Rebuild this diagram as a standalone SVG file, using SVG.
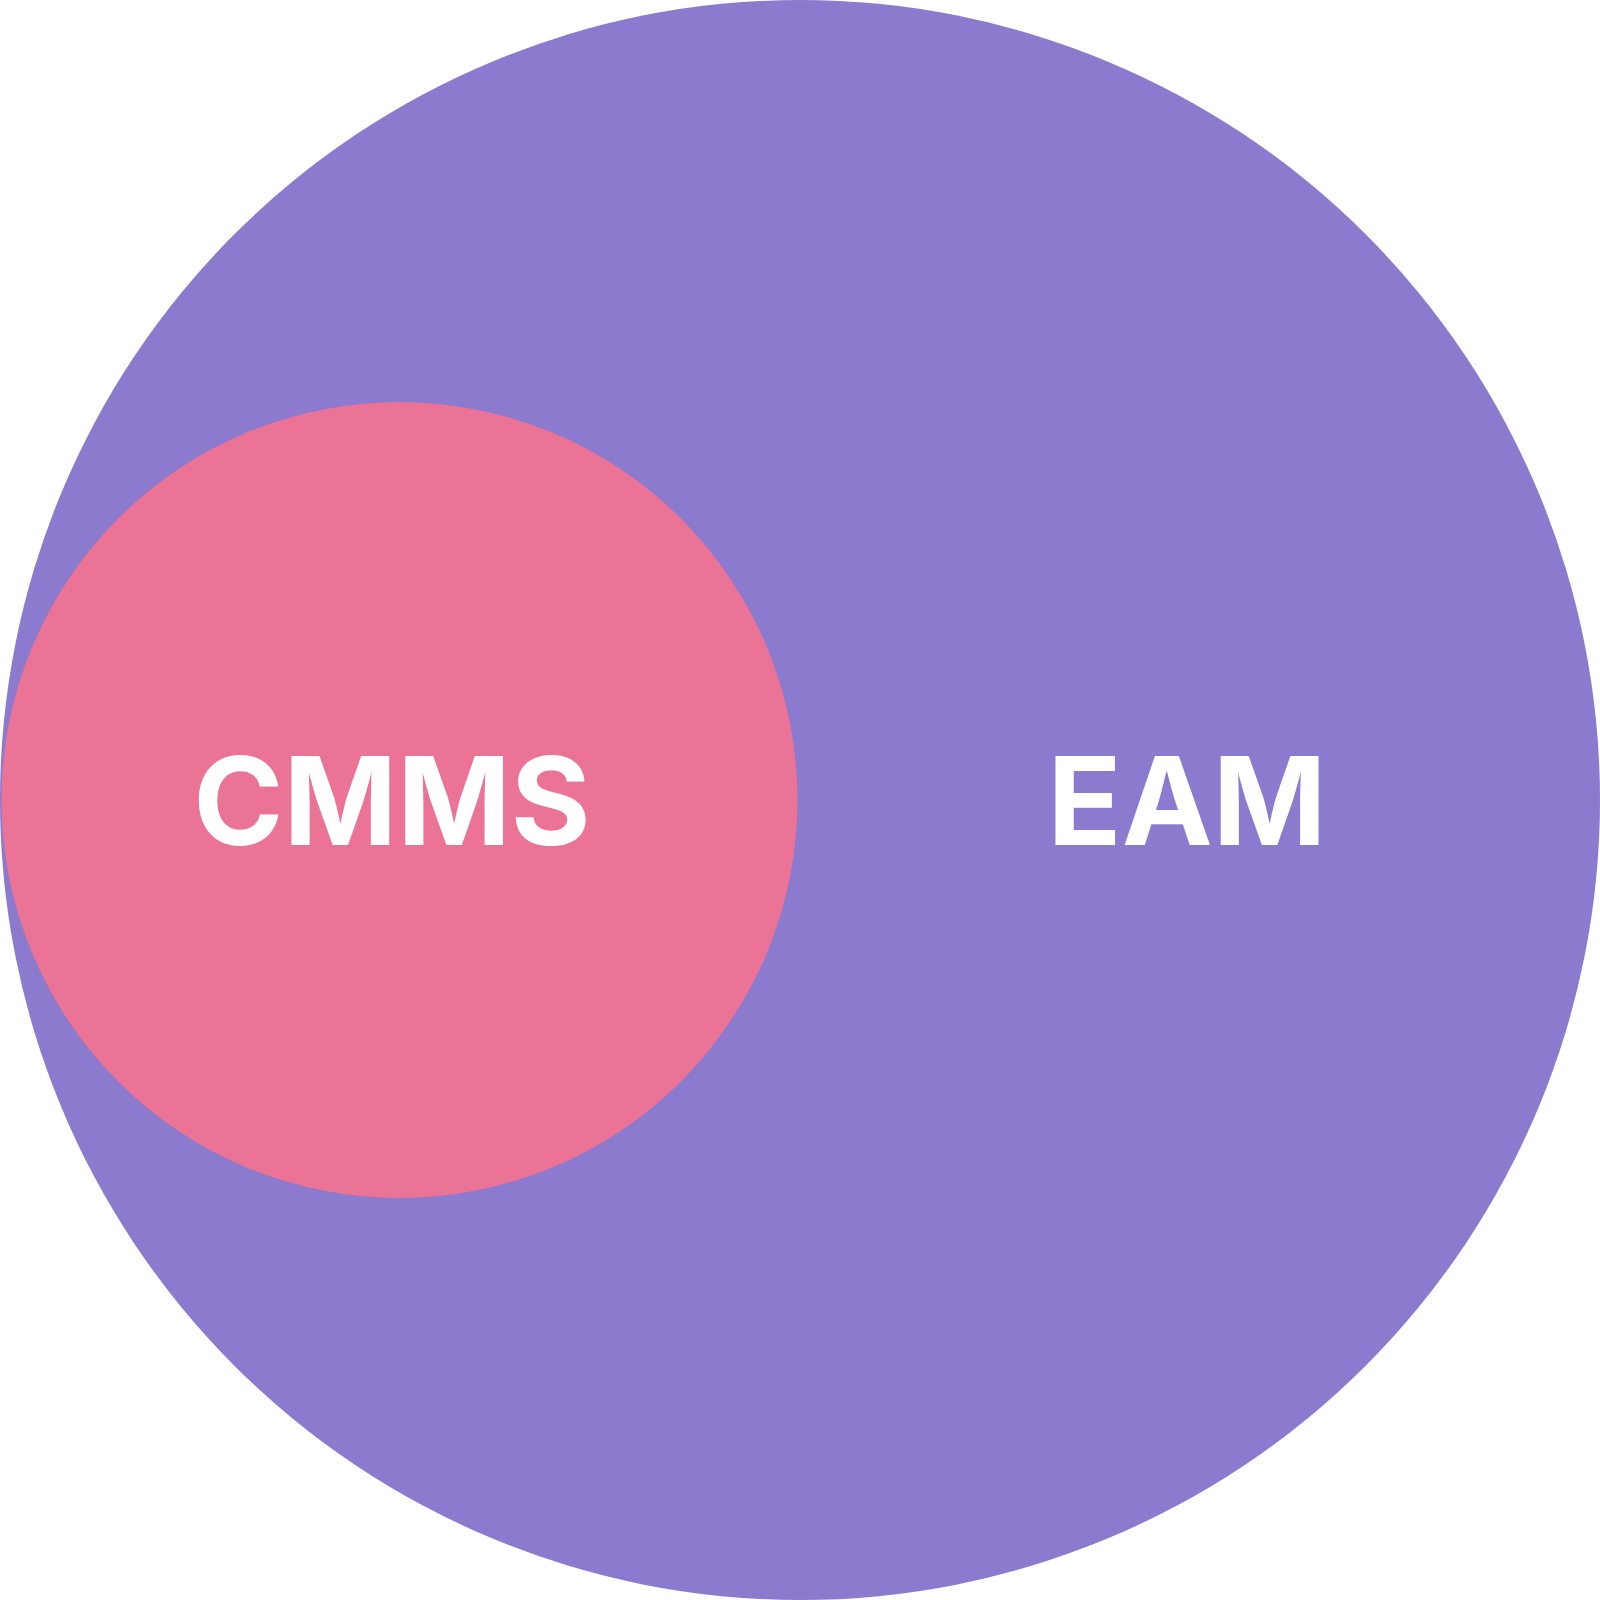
<svg xmlns="http://www.w3.org/2000/svg" width="1600" height="1600" viewBox="0 0 1600 1600">
<style>
.lbl{font-family:Inter,"Liberation Sans",sans-serif;font-weight:700;font-size:122px;fill:#ffffff;text-anchor:middle}
</style>
<rect width="1600" height="1600" fill="#ffffff"/>
<g id="eam">
<circle cx="800" cy="800" r="800" fill="#8B7ACE"/>
<text class="lbl" x="1187" y="845">EAM</text>
</g>
<g id="cmms">
<circle cx="399.5" cy="800" r="398" fill="#EA7396"/>
<text class="lbl" x="392" y="845">CMMS</text>
</g>
<g id="connectors"/>
</svg>
